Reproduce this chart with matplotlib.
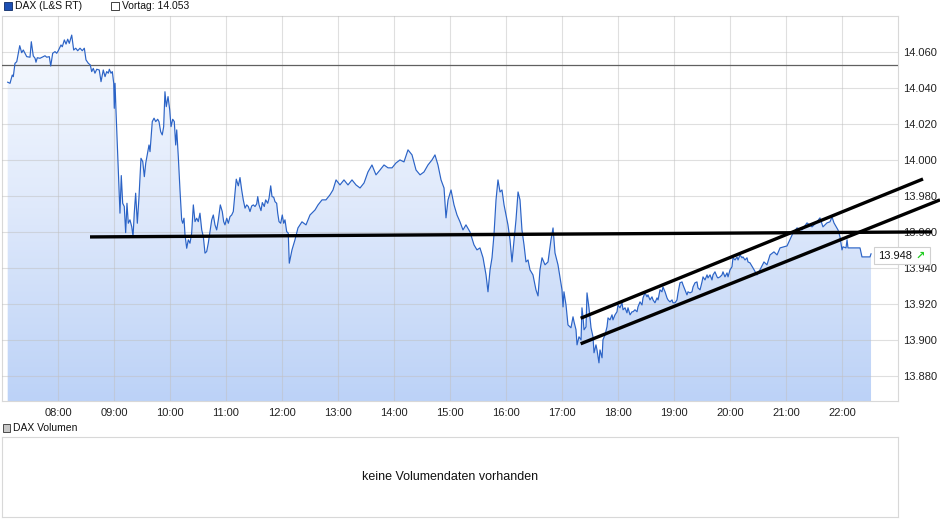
import numpy as np
import matplotlib
matplotlib.use("Agg")
import matplotlib.pyplot as plt
from matplotlib.colors import LinearSegmentedColormap
from matplotlib.patches import Rectangle

plt.rcParams['font.family'] = ['Liberation Sans', 'DejaVu Sans']

# ---- data (minutes after 07:00, price) ----
minutes = [6.1, 8.6, 11.0, 12.1, 13.9, 15.8, 19.0, 21.1, 22.8, 26.5, 30.0, 31.4, 33.5, 35.4, 36.4, 37.8,
           40.7, 44.2, 46.1, 47.9, 50.7, 52.2, 54.3, 56.8, 58.6, 60.3, 63.2, 64.6, 66.8, 68.6, 70.4, 72.1,
           74.7, 76.8, 79.0, 81.1, 83.6, 86.0, 88.2, 90.0, 92.5, 94.6, 96.1, 97.8, 99.6, 101.5, 104.2, 106.1,
           108.5, 110.4, 112.2, 113.9, 115.0, 116.8, 118.2, 119.7, 120.3, 121.1, 122.1, 124.0, 125.4, 126.4,
           127.8, 129.3, 131.0, 132.5, 133.9, 135.3, 137.1, 139.0, 140.4, 141.7, 143.2, 145.0, 146.8, 148.9,
           150.8, 152.5, 154.0, 157.5, 158.6, 161.0, 162.9, 164.7, 166.8, 168.2, 170.0, 171.7, 173.2, 174.6,
           176.0, 177.9, 179.7, 181.1, 182.9, 184.6, 186.1, 187.2, 188.9, 190.7, 192.5, 193.6, 195.0, 196.1,
           197.9, 199.6, 201.4, 203.2, 205.0, 206.8, 208.6, 210.3, 212.1, 214.0, 215.7, 217.5, 219.3, 221.0,
           222.9, 224.7, 226.4, 228.2, 230.0, 231.8, 233.9, 236.0, 237.5, 238.9, 240.8, 242.5, 244.3, 246.1,
           247.8, 249.6, 251.0, 253.2, 255.0, 256.8, 258.5, 260.4, 262.2, 263.9, 265.7, 267.5, 269.3, 271.1,
           272.9, 274.0, 275.4, 277.5, 278.9, 281.0, 282.5, 284.7, 286.1, 287.9, 289.3, 291.1, 292.5, 294.3,
           295.4, 296.8, 298.6, 300.3, 301.8, 303.2, 305.0, 306.7, 307.8, 310.7, 313.9, 317.1, 321.4, 325.7,
           330.0, 335.4, 338.6, 342.9, 347.1, 351.4, 354.6, 357.9, 362.1, 366.4, 370.7, 375.0, 379.3, 383.6,
           387.9, 392.1, 396.4, 400.7, 405.0, 409.3, 413.6, 417.9, 422.1, 426.4, 430.7, 435.0, 439.3, 443.6,
           447.9, 452.1, 456.4, 460.7, 463.9, 467.1, 470.4, 473.6, 475.7, 477.9, 481.1, 484.3, 487.5, 490.7,
           493.9, 497.1, 501.4, 505.7, 508.9, 512.1, 515.4, 518.6, 520.7, 522.9, 525.0, 527.1, 529.3, 531.4,
           533.6, 535.7, 537.9, 540.0, 542.1, 544.3, 546.4, 548.6, 550.7, 552.9, 555.0, 557.1, 559.3, 561.4,
           563.6, 565.7, 568.9, 572.1, 574.3, 576.4, 578.6, 581.8, 585.0, 588.2, 590.4, 592.5, 595.7, 600.0,
           601.1, 602.1, 604.3, 606.4, 609.6, 611.8, 612.9, 615.0, 616.1, 618.2, 620.4, 621.4, 622.5, 623.6,
           625.7, 626.8, 628.9, 631.1, 633.2, 634.3, 636.4, 637.5, 639.6, 640.7, 642.9, 643.9, 646.1, 648.2,
           649.3, 651.4, 653.6, 654.6, 656.8, 658.9, 660.0, 662.1, 664.3, 665.4, 667.5, 669.6, 670.7, 672.9,
           675.0, 676.1, 678.2, 680.4, 681.4, 683.6, 685.7, 686.8, 688.9, 691.1, 692.1, 694.3, 696.4, 697.5,
           699.6, 701.8, 702.9, 705.0, 707.1, 708.2, 710.4, 712.5, 713.6, 715.7, 717.9, 718.9, 721.1, 723.2,
           724.3, 726.4, 728.6, 729.6, 731.8, 733.9, 735.0, 737.1, 739.3, 740.4, 742.5, 744.6, 745.7, 747.9,
           750.0, 751.1, 753.2, 755.4, 756.4, 758.6, 760.7, 761.8, 763.9, 766.1, 767.1, 769.3, 771.4, 772.5,
           774.6, 776.8, 777.9, 780.0, 782.1, 783.2, 785.4, 787.5, 788.6, 790.7, 792.9, 793.9, 796.1, 798.2,
           799.3, 801.4, 804.6, 808.9, 812.1, 816.4, 819.6, 822.9, 827.1, 830.4, 833.6, 841.1, 847.5, 851.8,
           857.1, 862.5, 867.9, 873.2, 876.4, 879.6, 883.9, 887.1, 889.3, 891.4, 895.7, 897.9, 900.0, 901.1,
           904.3, 905.4, 906.4, 919.3, 921.4, 930.0, 931.1]

prices = [14043.2, 14042.6, 14047.2, 14046.3, 14053.7, 14054.6, 14063.5, 14059.6, 14061.1, 14057.4, 14057.1,
          14065.7, 14057.8, 14056.5, 14054.3, 14056.8, 14056.5, 14057.4, 14057.9, 14057.1, 14057.4, 14052.2,
          14059.3, 14060.2, 14059.3, 14060.7, 14063.9, 14062.9, 14066.7, 14064.4, 14067.1, 14064.8, 14069.4,
          14061.1, 14062.1, 14060.7, 14062.1, 14060.7, 14062.1, 14055.6, 14053.7, 14052.8, 14049.1, 14050.9,
          14048.2, 14050.4, 14050.0, 14043.5, 14050.0, 14046.3, 14049.1, 14048.2, 14050.4, 14048.2, 14049.1,
          14042.6, 14028.7, 14042.6, 14027.8, 14001.8, 13983.3, 13970.4, 13991.3, 13975.9, 13974.1, 13959.6,
          13975.9, 13964.8, 13966.7, 13962.9, 13957.4, 13970.4, 13981.5, 13964.8, 13979.6, 14000.9, 13999.1,
          13990.7, 13998.2, 14008.3, 14004.6, 14021.3, 14023.2, 14021.3, 14022.6, 14021.3, 14015.7, 14013.9,
          14018.5, 14037.9, 14029.6, 14035.2, 14027.8, 14018.5, 14022.6, 14021.3, 14008.3, 14016.7, 14001.8,
          13983.3, 13966.7, 13964.8, 13967.6, 13958.3, 13950.9, 13955.6, 13953.7, 13959.3, 13975.0, 13965.7,
          13967.6, 13965.7, 13970.4, 13961.1, 13957.4, 13948.2, 13949.1, 13953.7, 13960.2, 13966.7, 13969.4,
          13963.9, 13961.1, 13966.7, 13975.0, 13971.3, 13965.7, 13963.9, 13967.6, 13964.8, 13968.5, 13969.4,
          13971.3, 13981.5, 13989.3, 13985.6, 13990.2, 13983.3, 13977.8, 13973.2, 13975.0, 13974.1, 13971.3,
          13974.4, 13975.0, 13974.1, 13975.6, 13979.6, 13975.0, 13971.8, 13976.3, 13974.1, 13977.8, 13975.9,
          13978.7, 13985.6, 13979.6, 13979.3, 13976.8, 13975.9, 13970.4, 13965.7, 13964.8, 13969.4, 13964.8,
          13966.7, 13960.2, 13959.3, 13942.6, 13950.0, 13955.6, 13962.2, 13965.6, 13963.9, 13969.4, 13972.2,
          13975.0, 13977.8, 13977.8, 13980.6, 13983.3, 13988.9, 13986.1, 13988.9, 13986.1, 13988.9, 13986.1,
          13984.4, 13987.2, 13993.3, 13997.2, 13991.7, 13994.4, 13997.2, 13995.6, 13995.6, 13998.3, 14000.0,
          13998.9, 14005.6, 14002.8, 13994.4, 13991.7, 13993.3, 13997.2, 14000.0, 14002.8, 13997.2, 13988.9,
          13984.4, 13967.8, 13977.8, 13983.3, 13975.0, 13969.4, 13965.6, 13961.1, 13963.9, 13960.0, 13952.8,
          13950.0, 13951.1, 13945.6, 13936.1, 13926.7, 13938.9, 13945.6, 13958.3, 13977.8, 13988.9, 13982.2,
          13983.3, 13975.0, 13969.4, 13963.9, 13955.6, 13943.3, 13955.6, 13966.7, 13982.2, 13977.8, 13961.1,
          13952.8, 13943.3, 13944.4, 13938.9, 13936.1, 13927.8, 13924.4, 13938.9, 13945.6, 13941.7, 13943.3,
          13955.6, 13962.2, 13948.3, 13941.7, 13927.8, 13918.3, 13926.7, 13919.4, 13908.3, 13906.7, 13912.8,
          13910.0, 13905.6, 13897.2, 13901.7, 13900.0, 13917.8, 13912.8, 13905.6, 13907.2, 13926.1, 13917.8,
          13906.7, 13901.7, 13892.8, 13897.2, 13894.4, 13887.2, 13894.4, 13890.0, 13900.0, 13902.8, 13907.2,
          13912.2, 13911.1, 13913.9, 13911.1, 13913.9, 13915.6, 13919.4, 13917.8, 13920.6, 13916.7, 13917.8,
          13915.0, 13917.8, 13913.9, 13915.6, 13915.6, 13916.7, 13915.6, 13918.3, 13921.1, 13919.4, 13923.3,
          13926.1, 13923.9, 13925.0, 13922.2, 13923.9, 13922.2, 13920.6, 13923.3, 13922.2, 13927.8, 13926.7,
          13929.4, 13926.7, 13923.3, 13922.2, 13921.1, 13922.2, 13920.6, 13920.6, 13922.2, 13926.1, 13931.7,
          13932.2, 13930.6, 13927.8, 13925.0, 13926.7, 13926.1, 13926.7, 13929.4, 13931.7, 13932.2, 13928.9,
          13927.8, 13932.2, 13935.0, 13933.3, 13936.1, 13934.4, 13936.1, 13933.3, 13936.1, 13937.8, 13935.0,
          13934.4, 13935.0, 13936.1, 13937.8, 13935.0, 13937.2, 13935.0, 13938.9, 13940.6, 13945.6, 13944.4,
          13946.1, 13944.4, 13947.2, 13945.6, 13946.1, 13944.4, 13945.6, 13943.3, 13942.8, 13940.0, 13936.1,
          13938.9, 13943.3, 13941.7, 13947.2, 13948.9, 13947.2, 13951.1, 13952.2, 13959.4, 13962.2, 13961.1,
          13965.0, 13962.8, 13965.6, 13967.8, 13962.8, 13965.0, 13965.6, 13968.3, 13965.0, 13961.1, 13957.2,
          13950.0, 13951.7, 13951.1, 13955.6, 13951.1, 13951.1, 13946.1, 13946.1, 13947.8]

prev_close = 14053
last_price = 13948
y_ticks = [13880, 13900, 13920, 13940, 13960, 13980, 14000, 14020, 14040, 14060]
x_tick_minutes = [60, 120, 180, 240, 300, 360, 420, 480, 540, 600, 660, 720, 780, 840, 900]
x_tick_labels = ["08:00", "09:00", "10:00", "11:00", "12:00", "13:00", "14:00", "15:00",
                 "16:00", "17:00", "18:00", "19:00", "20:00", "21:00", "22:00"]

# user-drawn trend lines (start/end in minutes after 07:00, price)
support_x = [94.3, 996.4]
support_y = [13957.2, 13960.0]
channel_top_x = [620.0, 986.8]
channel_top_y = [13912.0, 13989.4]
channel_bot_x = [620.0, 1005.0]
channel_bot_y = [13897.8, 13977.8]

W, H = 940, 526
fig = plt.figure(figsize=(W / 100, H / 100), dpi=100)


def fx(px):
    return px / W


def fy(py):
    return 1 - py / H


YMIN, YMAX = 13866, 14080
ax = fig.add_axes([fx(2), fy(401), fx(898) - fx(2), fy(16) - fy(401)])
ax.set_facecolor('white')

x = np.array(minutes)
y = np.array(prices)

# gradient fill under the line
poly = ax.fill_between(x, y, YMIN, facecolor='none', edgecolor='none')
path = poly.get_paths()[0]
cmap = LinearSegmentedColormap.from_list('g', ['#bcd2f7', '#dfe9fb', '#f8fbff'])
grad = np.linspace(0, 1, 256).reshape(-1, 1)
im = ax.imshow(grad, aspect='auto', cmap=cmap, origin='lower',
               extent=[0, 960, YMIN, YMAX], zorder=1, interpolation='bilinear')
im.set_clip_path(path, transform=ax.transData)

ax.plot(x, y, color='#2b63c6', lw=0.85, zorder=4)
ax.axhline(prev_close, color='#606060', lw=0.9, zorder=3)

ax.set_xlim(0, 960)
ax.set_ylim(YMIN, YMAX)
ax.set_yticks(y_ticks)
ax.set_yticklabels([f"{v:,.0f}".replace(',', '.') for v in y_ticks])
ax.set_xticks(x_tick_minutes)
ax.set_xticklabels(x_tick_labels)
ax.yaxis.tick_right()
ax.tick_params(axis='both', length=0, labelsize=8, colors='#222222')
ax.tick_params(axis='y', pad=4)
ax.tick_params(axis='x', pad=5)
ax.grid(True, color='#c0c0c0', alpha=0.5, lw=0.8, zorder=2)
ax.set_axisbelow(False)
for gl in ax.get_xgridlines() + ax.get_ygridlines():
    gl.set_zorder(2)
for s in ax.spines.values():
    s.set_color('#d8d8d8')
    s.set_linewidth(0.8)

# trend lines
for lx, ly in [(support_x, support_y), (channel_top_x, channel_top_y), (channel_bot_x, channel_bot_y)]:
    ax.plot(lx, ly, color='black', lw=2.4, solid_capstyle='butt', clip_on=False, zorder=6)

# header legend
fig.patches.append(Rectangle((fx(4), fy(10)), fx(8), fy(2) - fy(10), transform=fig.transFigure,
                             facecolor='#1c4fb3', edgecolor='#0d2a66', lw=0.6))
fig.text(fx(15), fy(6), "DAX (L&S RT)", fontsize=7.5, va='center', ha='left', color='#111111')
fig.patches.append(Rectangle((fx(111), fy(10)), fx(8), fy(2) - fy(10), transform=fig.transFigure,
                             facecolor='white', edgecolor='#222222', lw=0.6))
fig.text(fx(122), fy(6), f"Vortag: {prev_close:,.0f}".replace(',', '.'), fontsize=7.5,
         va='center', ha='left', color='#111111')

# last price box
fig.patches.append(Rectangle((fx(874), fy(264)), fx(56), fy(247) - fy(264), transform=fig.transFigure,
                             facecolor='white', edgecolor='#d0d0d0', lw=0.8, zorder=10))
fig.text(fx(878), fy(256), f"{last_price:,.0f}".replace(',', '.'), fontsize=8, va='center',
         ha='left', color='#111111', zorder=11)
fig.text(fx(915), fy(256), "\u2197", fontsize=8, va='center', ha='left', color='#22cc22',
         fontweight='bold', family=['DejaVu Sans'], zorder=11)

# volume panel
fig.patches.append(Rectangle((fx(3), fy(432)), fx(7), fy(424) - fy(432), transform=fig.transFigure,
                             facecolor='#c8c8c8', edgecolor='#333333', lw=0.6))
fig.text(fx(13), fy(428), "DAX Volumen", fontsize=7.5, va='center', ha='left', color='#111111')
ax2 = fig.add_axes([fx(2), fy(517), fx(898) - fx(2), fy(437) - fy(517)])
ax2.set_xticks([])
ax2.set_yticks([])
for s in ax2.spines.values():
    s.set_color('#d8d8d8')
    s.set_linewidth(0.8)
ax2.text(0.5, 0.5, "keine Volumendaten vorhanden", transform=ax2.transAxes, ha='center',
         va='center', fontsize=9, color='#111111')

fig.savefig("out.png", dpi=100)
